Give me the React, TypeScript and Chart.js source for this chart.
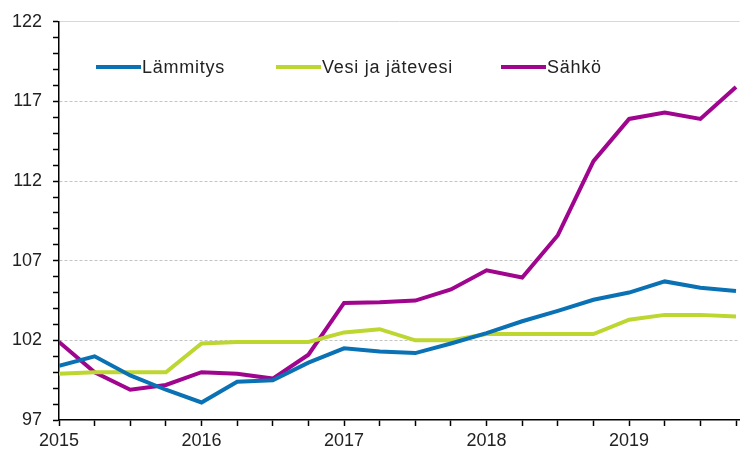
import React, { useEffect, useRef } from "react";
import { Chart, registerables } from "chart.js";

Chart.register(...registerables);

const quarters: number[] = [0, 1, 2, 3, 4, 5, 6, 7, 8, 9, 10, 11, 12, 13, 14, 15, 16, 17, 18, 19];
const startYear = 2015;
const yTickLabels: number[] = [97, 102, 107, 112, 117, 122];

const seriesNames: string[] = ["Lämmitys", "Vesi ja jätevesi", "Sähkö"];
const seriesColors: string[] = ["#0a72b4", "#bdd630", "#a0058e"];

const lammitys: number[] = [100.4, 101.0, 99.8, 98.9, 98.1, 99.4, 99.5, 100.6, 101.5, 101.3, 101.2, 101.8, 102.45, 103.2, 103.85, 104.55, 105.0, 105.7, 105.3, 105.1];
const vesi: number[] = [99.9, 100.0, 100.0, 100.0, 101.8, 101.9, 101.9, 101.9, 102.5, 102.7, 102.0, 102.0, 102.4, 102.4, 102.4, 102.4, 103.3, 103.6, 103.6, 103.5];
const sahko: number[] = [101.9, 100.0, 98.9, 99.2, 100.0, 99.9, 99.6, 101.1, 104.35, 104.4, 104.5, 105.2, 106.4, 105.95, 108.6, 113.25, 115.9, 116.3, 115.9, 117.9];

const FONT = "'Liberation Sans', Arial, sans-serif";

const legendPlugin = {
  id: "inlineLegend",
  afterDraw(chart: any) {
    const ctx = chart.ctx;
    const xs = [96, 276, 501];
    const y = 67;
    ctx.save();
    chart.data.datasets.forEach((ds: any, i: number) => {
      ctx.strokeStyle = ds.borderColor;
      ctx.lineWidth = 4;
      ctx.lineCap = "butt";
      ctx.beginPath();
      ctx.moveTo(xs[i], y);
      ctx.lineTo(xs[i] + 45, y);
      ctx.stroke();
      ctx.fillStyle = "#222";
      ctx.font = `18px ${FONT}`;
      try {
        (ctx as any).letterSpacing = "0.75px";
      } catch (e) {}
      ctx.textBaseline = "middle";
      ctx.textAlign = "left";
      ctx.fillText(ds.label, xs[i] + 46, y + 1);
    });
    ctx.restore();
  },
};

export default function App() {
  const ref = useRef<HTMLCanvasElement>(null);
  useEffect(() => {
    if (!ref.current) return;
    const data = [lammitys, vesi, sahko];
    const chart = new Chart(ref.current, {
      type: "line",
      data: {
        datasets: seriesNames.map((name, i) => ({
          label: name,
          data: quarters.map((q, j) => ({ x: q, y: data[i][j] })),
          borderColor: seriesColors[i],
          backgroundColor: seriesColors[i],
          borderWidth: 4,
          pointRadius: 0,
          tension: 0,
        })),
      },
      options: {
        responsive: false,
        animation: false,
        layout: { padding: { top: 21, right: 0, left: 0, bottom: 0 } },
        plugins: { legend: { display: false }, tooltip: { enabled: false } },
        scales: {
          x: {
            type: "linear",
            min: 0,
            max: 19.1,
            afterFit: (s: any) => {
              s.height = 33;
            },
            ticks: {
              stepSize: 1,
              includeBounds: false,
              autoSkip: false,
              maxRotation: 0,
              padding: 4,
              color: "#222",
              font: { family: FONT, size: 18 },
              callback: (v: any) => (Number(v) % 4 === 0 ? String(startYear + Number(v) / 4) : ""),
            },
            grid: {
              drawOnChartArea: false,
              drawTicks: true,
              tickLength: 6,
              tickColor: "#000",
              tickWidth: 1.5,
            },
            border: { color: "#000", width: 1.5 },
          },
          y: {
            min: 97,
            max: 122,
            afterFit: (s: any) => {
              s.width = 59;
            },
            ticks: {
              stepSize: 1,
              autoSkip: false,
              padding: 11,
              color: "#222",
              font: { family: FONT, size: 18 },
              callback: (v: any) => (yTickLabels.includes(Number(v)) ? String(v) : ""),
            },
            grid: {
              drawTicks: true,
              tickLength: 6,
              tickColor: "#000",
              tickWidth: 1.5,
              color: (c: any) =>
                c.tick && yTickLabels.includes(c.tick.value) && c.tick.value !== 97
                  ? c.tick.value === 122
                    ? "#d8d8d8"
                    : "#c4c4c4"
                  : "rgba(0,0,0,0)",
              lineWidth: 1,
            },
            border: {
              color: "#000",
              width: 1.5,
              dash: (c: any) => (c.tick && c.tick.value === 122 ? [] : [3, 2]),
            },
          },
        },
      },
      plugins: [legendPlugin],
    } as any);
    return () => chart.destroy();
  }, []);
  return (
    <div style={{ position: "absolute", left: 0, top: 0, width: 740, height: 453, background: "#fff" }}>
      <canvas ref={ref} width={740} height={453} />
    </div>
  );
}
